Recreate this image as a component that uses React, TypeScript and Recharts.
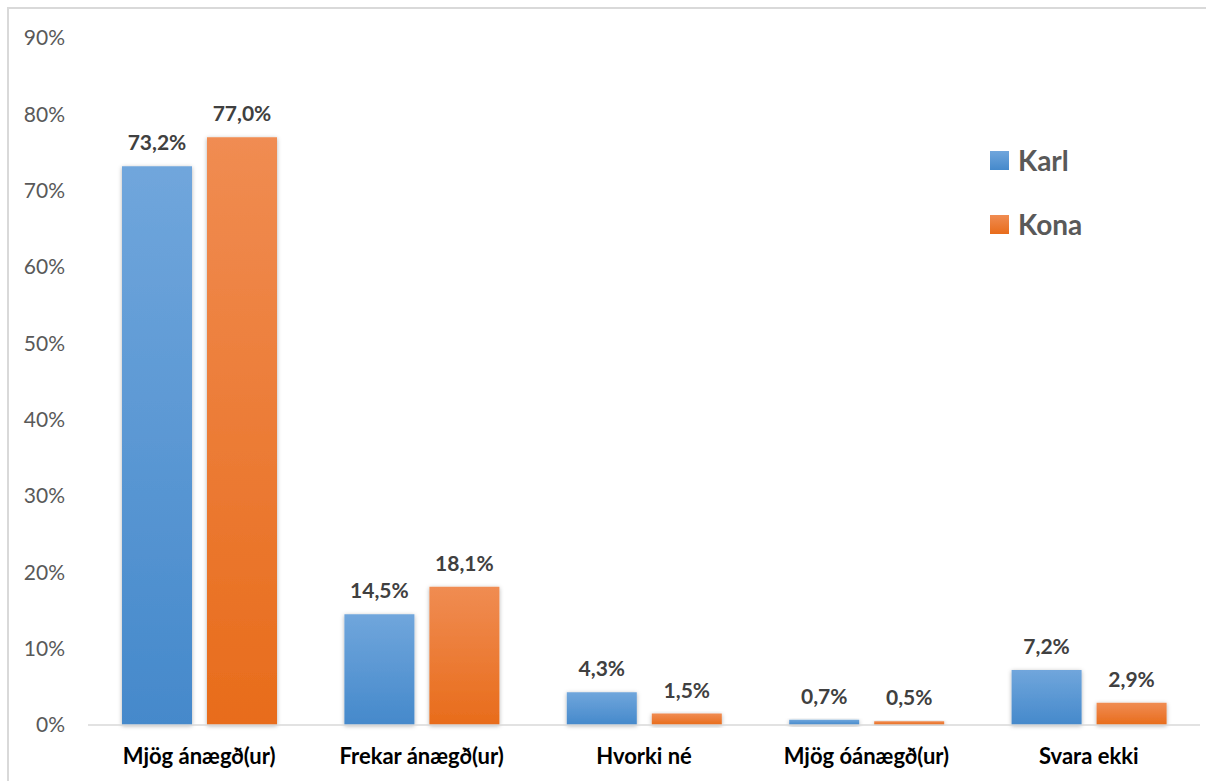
import React from "react";
import { BarChart, Bar, XAxis, YAxis, LabelList } from "recharts";

const categories = [
  "Mjög ánægð(ur)",
  "Frekar ánægð(ur)",
  "Hvorki né",
  "Mjög óánægð(ur)",
  "Svara ekki",
];
const karl = [73.2, 14.5, 4.3, 0.7, 7.2];
const kona = [77.0, 18.1, 1.5, 0.5, 2.9];
const yTicks = [0, 10, 20, 30, 40, 50, 60, 70, 80, 90];

const data = categories.map((name, i) => ({ name, karl: karl[i], kona: kona[i] }));

const FONT = "Lato, 'Open Sans', sans-serif";

const fmt = (v: number) => v.toFixed(1).replace(".", ",") + "%";

function LegendBox() {
  const items = [
    { label: "Karl", grad: "url(#gKarl)" },
    { label: "Kona", grad: "url(#gKona)" },
  ];
  return (
    <div style={{ position: "absolute", left: 990, top: 128, fontFamily: FONT }}>
      {items.map((it) => (
        <div key={it.label} style={{ display: "flex", alignItems: "center", height: 64 }}>
          <svg width={19} height={19} style={{ marginRight: 9 }}>
            <rect width={19} height={19} fill={it.grad} />
          </svg>
          <span style={{ fontSize: 28, fontWeight: 700, color: "#595959" }}>{it.label}</span>
        </div>
      ))}
    </div>
  );
}

export default function App() {
  return (
    <div
      style={{
        position: "absolute",
        left: 0,
        top: 0,
        width: 1206,
        height: 781,
        background: "#fff",
        overflow: "hidden",
      }}
    >
      <div
        style={{
          position: "absolute",
          left: 7,
          top: 7,
          width: 1220,
          height: 800,
          border: "2px solid #d9d9d9",
        }}
      />
      <div style={{ position: "absolute", left: 0, top: 0 }}>
        <BarChart
          width={1206}
          height={781}
          data={data}
          margin={{ top: 38, right: 6, bottom: 26, left: 0 }}
          barGap={15}
          barSize={70}
        >
          <defs>
            <linearGradient id="gKarl" x1="0" y1="0" x2="0" y2="1">
              <stop offset="0%" stopColor="#70a6dc" />
              <stop offset="100%" stopColor="#4589cb" />
            </linearGradient>
            <linearGradient id="gKona" x1="0" y1="0" x2="0" y2="1">
              <stop offset="0%" stopColor="#f08c52" />
              <stop offset="100%" stopColor="#e86c1b" />
            </linearGradient>
            <filter id="shadow" x="-20%" y="-20%" width="140%" height="140%">
              <feDropShadow dx="0" dy="1" stdDeviation="2" floodColor="#000" floodOpacity="0.3" />
            </filter>
          </defs>
          <XAxis
            dataKey="name"
            height={30}
            axisLine={{ stroke: "#d9d9d9", strokeWidth: 1.5 }}
            tickLine={false}
            tickSize={0}
            tickMargin={23}
            interval={0}
            tick={{ fontSize: 22, fontWeight: 700, fill: "#000", fontFamily: FONT }}
          />
          <YAxis
            width={88}
            domain={[0, 90]}
            ticks={yTicks}
            axisLine={false}
            tickLine={false}
            tickSize={0}
            tickMargin={23}
            tickFormatter={(v: number) => `${v}%`}
            tick={{ fontSize: 21, fill: "#595959", fontFamily: FONT }}
          />
          <Bar dataKey="karl" name="Karl" fill="url(#gKarl)" filter="url(#shadow)" isAnimationActive={false}>
            <LabelList
              dataKey="karl"
              position="top"
              offset={16}
              formatter={(v: any) => fmt(Number(v))}
              style={{ fontSize: 21, fontWeight: 700, fill: "#404040", fontFamily: FONT }}
            />
          </Bar>
          <Bar dataKey="kona" name="Kona" fill="url(#gKona)" filter="url(#shadow)" isAnimationActive={false}>
            <LabelList
              dataKey="kona"
              position="top"
              offset={16}
              formatter={(v: any) => fmt(Number(v))}
              style={{ fontSize: 21, fontWeight: 700, fill: "#404040", fontFamily: FONT }}
            />
          </Bar>
        </BarChart>
      </div>
      <LegendBox />
    </div>
  );
}
